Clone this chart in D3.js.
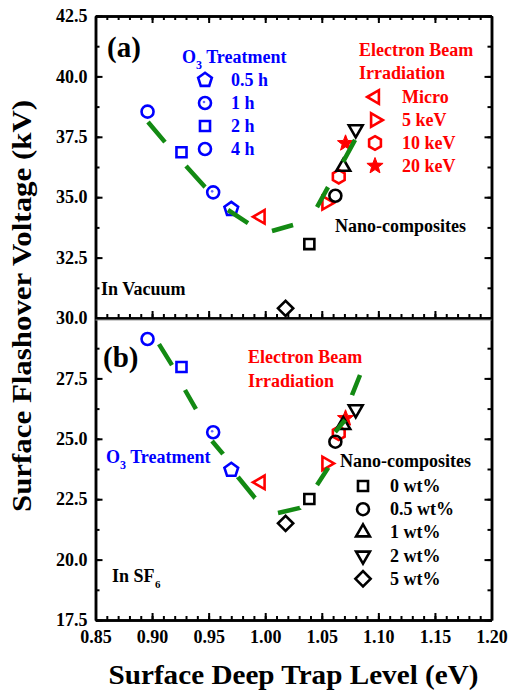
<!DOCTYPE html>
<html>
<head>
<meta charset="utf-8">
<script src="https://cdn.jsdelivr.net/npm/d3@7"></script>
<style>
  body { margin: 0; background: #fff; }
  text { font-family: "Liberation Serif", "Times New Roman", serif; font-weight: bold; }
</style>
</head>
<body>
<div id="vis"></div>
<script>
let W = 516;
let H = 693;

// Data
let xTickLabels = ['0.85', '0.90', '0.95', '1.00', '1.05', '1.10', '1.15', '1.20'];
let yTickLabels = ['17.5', '20.0', '22.5', '25.0', '27.5', '30.0', '32.5', '35.0', '37.5', '40.0', '42.5'];

// O3 treatment: 0.5 h, 1 h, 2 h, 4 h
let o3Labels = ['0.5 h', '1 h', '2 h', '4 h'];
let o3Trap = [0.970, 0.954, 0.926, 0.896];
let o3VacuumKV = [34.51, 35.20, 36.86, 38.54];
let o3SF6KV = [23.71, 25.27, 27.97, 29.13];

// Electron beam irradiation: Micro, 5 keV, 10 keV, 20 keV
let ebLabels = ['Micro', '5 keV', '10 keV', '20 keV'];
let ebTrap = [0.996, 1.054, 1.065, 1.071];
let ebVacuumKV = [34.19, 34.77, 35.85, 37.23];
let ebSF6KV = [23.20, 23.98, 25.23, 25.85];

// Nano-composites: 0, 0.5, 1, 2, 5 wt%
let nanoLabels = ['0 wt%', '0.5 wt%', '1 wt%', '2 wt%', '5 wt%'];
let nanoTrap = [1.039, 1.062, 1.069, 1.080, 1.018];
let nanoVacuumKV = [33.06, 35.06, 36.26, 37.81, 30.40];
let nanoSF6KV = [22.51, 24.88, 25.57, 26.22, 21.50];

// Green dashed trend curves (points at the dash ends)
let fitVacuumTrap = [0.8964, 0.9114, 0.9300, 0.9468, 0.9671, 0.9848, 1.0060, 1.0246, 1.0458, 1.0555, 1.0688, 1.0794];
let fitVacuumKV = [38.11, 37.28, 36.29, 35.42, 34.47, 33.93, 33.60, 33.85, 34.59, 35.42, 36.46, 37.37];
let fitSF6Trap = [0.9061, 0.9176, 0.9291, 0.9388, 0.9530, 0.9627, 0.9759, 0.9910, 1.0113, 1.0307, 1.0458, 1.0555, 1.0618, 1.0706, 1.0767, 1.0838];
let fitSF6KV = [28.92, 28.05, 27.02, 26.23, 24.91, 24.37, 23.42, 22.55, 21.93, 22.14, 23.09, 23.79, 25.28, 25.78, 26.81, 27.64];

let BLUE = '#0000ff';
let RED = '#ff0000';
let GREEN = '#138a13';

let svg = d3.select('#vis').append('svg').attr('width', W).attr('height', H);

let x = d3.scaleLinear().domain([0.85, 1.20]).range([95.5, 491.5]);
let y = d3.scaleLinear().domain([17.5, 42.5]).range([620, 16]);

let xMajor = xTickLabels.map(Number);
let yMajor = yTickLabels.map(Number);
let xMinor = d3.range(0, 36).map(i => 0.85 + i * 0.01);
let yMinor = d3.range(0, 21).map(i => 17.5 + i * 1.25);

// Axes (ticks pointing inward)
function drawAxis(axis, tx, ty, labels) {
	let g = svg.append('g').attr('transform', `translate(${tx},${ty})`).call(axis);
	g.select('.domain').attr('stroke-width', 2.5);
	g.selectAll('.tick line').attr('stroke-width', 2);
	if (!labels) g.selectAll('.tick text').remove();
	else g.selectAll('.tick text').attr('font-size', 18).attr('font-family', '"Liberation Serif", serif').attr('font-weight', 'bold').attr('fill', '#000');
	return g;
}

// minor ticks
drawAxis(d3.axisBottom(x).tickValues(xMinor).tickSize(-4).tickSizeOuter(0), 0, y(17.5), false);
drawAxis(d3.axisBottom(x).tickValues(xMinor).tickSize(-4).tickSizeOuter(0), 0, y(30), false);
drawAxis(d3.axisTop(x).tickValues(xMinor).tickSize(-4).tickSizeOuter(0), 0, y(42.5), false);
drawAxis(d3.axisLeft(y).tickValues(yMinor).tickSize(-4).tickSizeOuter(0), x(0.85), 0, false);
drawAxis(d3.axisRight(y).tickValues(yMinor).tickSize(-4).tickSizeOuter(0), x(1.20), 0, false);

// major ticks
drawAxis(d3.axisBottom(x).tickValues(xMajor).tickFormat((d, i) => xTickLabels[i]).tickSize(-7).tickSizeOuter(0).tickPadding(10), 0, y(17.5), true);
drawAxis(d3.axisBottom(x).tickValues(xMajor).tickSize(-7).tickSizeOuter(0), 0, y(30), false);
drawAxis(d3.axisTop(x).tickValues(xMajor).tickSize(-7).tickSizeOuter(0), 0, y(42.5), false);
drawAxis(d3.axisLeft(y).tickValues(yMajor).tickFormat((d, i) => yTickLabels[i]).tickSize(-7).tickSizeOuter(0).tickPadding(8), x(0.85), 0, true);
drawAxis(d3.axisRight(y).tickValues(yMajor).tickSize(-7).tickSizeOuter(0), x(1.20), 0, false);

// top frame line of panel (b)
svg.append('line').attr('x1', x(0.85)).attr('x2', x(1.20))
		.attr('y1', y(30) + 2).attr('y2', y(30) + 2)
		.attr('stroke', '#999').attr('stroke-width', 1);

// Axis titles
svg.append('text').attr('x', x(1.025)).attr('y', 684).attr('text-anchor', 'middle')
		.attr('font-size', 27).attr('textLength', 370).attr('lengthAdjust', 'spacingAndGlyphs')
		.text('Surface Deep Trap Level (eV)');
svg.append('text').attr('transform', 'translate(31,306) rotate(-90)').attr('text-anchor', 'middle')
		.attr('font-size', 27).attr('textLength', 412).attr('lengthAdjust', 'spacingAndGlyphs')
		.text('Surface Flashover Voltage (kV)');

// Marker shapes
function poly(n, rot) {
	return {
		draw(ctx, r) {
			for (let i = 0; i < n; i++) {
				let a = rot + i * 2 * Math.PI / n;
				if (i === 0) ctx.moveTo(r * Math.cos(a), r * Math.sin(a));
				else ctx.lineTo(r * Math.cos(a), r * Math.sin(a));
			}
			ctx.closePath();
		}
	};
}
let starShape = {
	draw(ctx, r) {
		for (let i = 0; i < 10; i++) {
			let a = -Math.PI / 2 + i * Math.PI / 5;
			let rr = i % 2 === 0 ? r : r * 0.42;
			if (i === 0) ctx.moveTo(rr * Math.cos(a), rr * Math.sin(a));
			else ctx.lineTo(rr * Math.cos(a), rr * Math.sin(a));
		}
		ctx.closePath();
	}
};
let circleShape = { draw(ctx, r) { ctx.moveTo(r, 0); ctx.arc(0, 0, r, 0, 2 * Math.PI); } };

let shapes = {
	pentagon: [poly(5, -Math.PI / 2), 7.2],
	circle: [circleShape, 6],
	square: [poly(4, Math.PI / 4), 7.1],
	up: [poly(3, -Math.PI / 2), 8],
	down: [poly(3, Math.PI / 2), 8],
	left: [poly(3, Math.PI), 7.8],
	right: [poly(3, 0), 7.8],
	hexagon: [poly(6, -Math.PI / 2), 6.8],
	star: [starShape, 8.5],
	diamond: [poly(4, 0), 7.6]
};

let o3Shapes = ['pentagon', 'circle', 'square', 'circle'];
let ebShapes = ['left', 'right', 'hexagon', 'star'];
let nanoShapes = ['square', 'circle', 'up', 'down', 'diamond'];

function marker(g, shape, cx, cy, color, dotted) {
	let s = shapes[shape];
	let filled = shape === 'star';
	g.append('path')
			.attr('d', d3.symbol().type(s[0]).size(s[1])())
			.attr('transform', `translate(${cx},${cy})`)
			.attr('fill', filled ? color : 'none')
			.attr('stroke', color).attr('stroke-width', filled ? 1 : 2.6)
			.attr('stroke-linejoin', 'miter');
	if (dotted) {
		g.append('circle').attr('cx', cx - 1).attr('cy', cy - 1).attr('r', 1.3).attr('fill', color).attr('opacity', 0.6);
	}
}

// Data markers
let marks = svg.append('g');
[o3VacuumKV, o3SF6KV].forEach(vals => {
	vals.forEach((v, i) => marker(marks, o3Shapes[i], x(o3Trap[i]), y(v), BLUE, i === 1));
});
[ebVacuumKV, ebSF6KV].forEach(vals => {
	vals.forEach((v, i) => marker(marks, ebShapes[i], x(ebTrap[i]), y(v), RED, false));
});
[nanoVacuumKV, nanoSF6KV].forEach(vals => {
	vals.forEach((v, i) => marker(marks, nanoShapes[i], x(nanoTrap[i]), y(v), '#000', false));
});

// Dashed trend curves: dash pattern follows the read dash ends
let line = d3.line().x(d => x(d[0])).y(d => y(d[1]));
function dashedCurve(tr, kv) {
	let pts = d3.zip(tr, kv);
	let lens = d3.pairs(pts).map(([a, b]) => Math.hypot(x(b[0]) - x(a[0]), y(b[1]) - y(a[1])));
	svg.append('path').attr('d', line(pts))
			.attr('fill', 'none').attr('stroke', GREEN).attr('stroke-width', 4.5)
			.attr('stroke-linejoin', 'round')
			.attr('stroke-dasharray', lens.map(l => l.toFixed(2)).join(',') + ',1000');
}
dashedCurve(fitVacuumTrap, fitVacuumKV);
dashedCurve(fitSF6Trap, fitSF6KV);

// Text helper
function label(tx, ty, str, color, size, sub) {
	let t = svg.append('text').attr('x', tx).attr('y', ty).attr('fill', color).attr('font-size', size || 18);
	if (sub) {
		t.append('tspan').text(str[0]);
		t.append('tspan').attr('font-size', 12).attr('dy', 6).text(sub);
		t.append('tspan').attr('dy', -6).text(str.slice(1));
	} else {
		t.text(str);
	}
	return t;
}

// Panel (a) annotations
label(107, 57, '(a)', '#000', 29);
label(182, 63, 'O Treatment', BLUE, 18, '3');
o3Labels.forEach((d, i) => {
	let ly = 80 + i * 23;
	marker(svg, o3Shapes[i], 205, ly, BLUE, i === 1);
	label(231, ly + 6, d, BLUE);
});
label(359, 56, 'Electron Beam', RED);
label(359, 79, 'Irradiation', RED);
ebLabels.forEach((d, i) => {
	let ly = 97 + i * 23;
	marker(svg, ebShapes[i], 375, ly, RED, false);
	label(402, ly + 6, d, RED);
});
label(335, 232, 'Nano-composites', '#000');
label(101, 295, 'In Vacuum', '#000');

// Panel (b) annotations
label(103, 367, '(b)', '#000', 29);
label(248, 363, 'Electron Beam', RED);
label(248, 387, 'Irradiation', RED);
label(106, 463, 'O Treatment', BLUE, 18, '3');
label(340, 467, 'Nano-composites', '#000');
nanoLabels.forEach((d, i) => {
	let ly = 486 + i * 23.2;
	marker(svg, nanoShapes[i], 363, ly, '#000', false);
	label(390, ly + 6, d, '#000');
});
label(112, 582, 'In SF', '#000', 18, null);
svg.append('text').attr('x', 155).attr('y', 588).attr('font-size', 11).text('6');
</script>
</body>
</html>
